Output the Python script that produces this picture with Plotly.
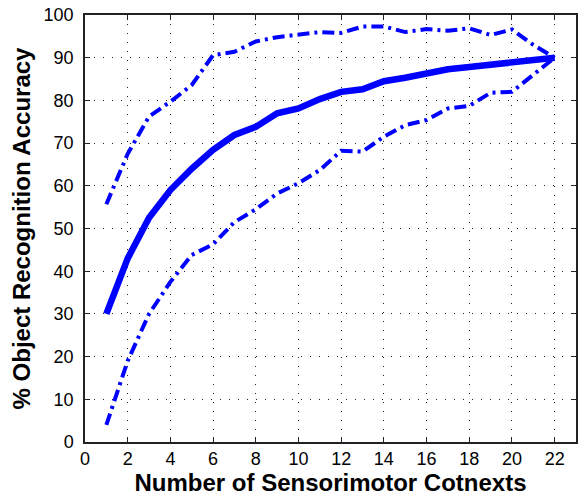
import plotly.graph_objects as go

contexts = list(range(1, 23))
mean_acc = [30, 43, 52.5, 59, 64, 68.4, 71.9, 73.8, 77, 78.1, 80.3, 82.0, 82.6, 84.5, 85.3, 86.2,
            87.3, 87.8, 88.4, 89.1, 89.6, 90.0]
upper_acc = [55.7, 67.5, 76.2, 79.7, 83.6, 90.6, 91.4, 93.8, 94.8, 95.5, 96.0, 95.8, 97.3, 97.3,
             96.0, 96.7, 96.3, 96.9, 95.3, 96.6, 93.0, 90.0]
lower_acc = [4.0, 19.0, 30.0, 37.5, 43.8, 46.3, 51.5, 54.5, 58.2, 60.6, 63.7, 68.2, 68.0, 71.5,
             74.2, 75.4, 78.1, 78.7, 81.8, 82.0, 86.0, 90.0]

x_ticks = list(range(0, 23, 2))
y_ticks = list(range(0, 101, 10))

blue = "#0000ff"
dashdot = "12px,5px,3px,5px"

fig = go.Figure()
fig.add_trace(go.Scatter(x=contexts, y=upper_acc, mode="lines",
                         line=dict(color=blue, width=4, dash=dashdot)))
fig.add_trace(go.Scatter(x=contexts, y=lower_acc, mode="lines",
                         line=dict(color=blue, width=4, dash=dashdot)))
fig.add_trace(go.Scatter(x=contexts, y=mean_acc, mode="lines",
                         line=dict(color=blue, width=6.5)))

axis_common = dict(
    showline=True, linecolor="#222222", linewidth=1.5, mirror="ticks",
    ticks="inside", ticklen=5, tickcolor="#222222", tickwidth=1,
    showgrid=True, gridcolor="#222222", griddash="1px,8px", gridwidth=1,
    zeroline=False, automargin=False,
    tickfont=dict(family="Liberation Sans, Arial", size=18, color="black"),
)

title_font = dict(family="Liberation Sans, Arial", size=24, color="black")

fig.update_layout(
    width=583, height=497,
    margin=dict(l=85, r=7, t=15, b=55),
    paper_bgcolor="white", plot_bgcolor="white",
    showlegend=False,
    xaxis=dict(range=[0, 23], tickvals=x_ticks,
               title=dict(text="<b>Number of Sensorimotor Cotnexts</b>", standoff=2,
                          font=title_font),
               **axis_common),
    yaxis=dict(range=[0, 100], tickvals=y_ticks, ticklabelstandoff=6,
               title=dict(text="<b>% Object Recognition Accuracy</b>", standoff=6,
                          font=title_font),
               **axis_common),
)

fig.write_html("out.html")
